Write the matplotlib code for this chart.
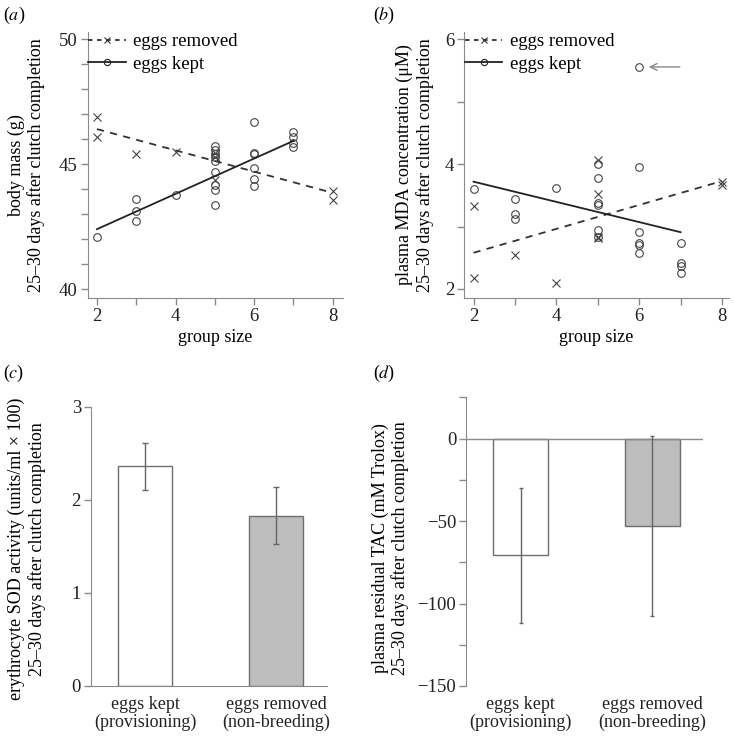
import matplotlib
matplotlib.use('Agg')
import matplotlib.pyplot as plt

plt.rcParams['font.family'] = ['Liberation Serif', 'DejaVu Serif']
plt.rcParams['mathtext.fontset'] = 'stix'

# (a) body mass vs group size
mass_removed_x = [2, 2, 3, 4, 5, 5, 5, 8, 8]
mass_removed_y = [46.9, 46.1, 45.41, 45.49, 45.45, 45.3, 44.35, 43.93, 43.56]
mass_kept_x = [2, 3, 3, 3, 4, 5, 5, 5, 5, 5, 5, 5, 5, 5, 6, 6, 6, 6, 6, 6, 7, 7, 7, 7]
mass_kept_y = [42.09, 43.6, 43.13, 42.72, 43.76, 45.72, 45.56, 45.4, 45.27, 45.13,
               44.68, 44.15, 43.96, 43.35, 46.67, 45.45, 45.4, 44.85, 44.4, 44.13,
               46.29, 46.08, 45.86, 45.69]
mass_fit_removed_x = [2, 8]
mass_fit_removed_y = [46.4, 43.85]
mass_fit_kept_x = [2, 7]
mass_fit_kept_y = [42.4, 45.93]

# (b) plasma MDA vs group size
mda_removed_x = [2, 2, 3, 4, 5, 5, 5, 5, 8, 8]
mda_removed_y = [3.33, 2.175, 2.55, 2.095, 4.07, 3.52, 2.84, 2.81, 3.71, 3.67]
mda_kept_x = [2, 3, 3, 3, 4, 5, 5, 5, 5, 5, 5, 6, 6, 6, 6, 6, 6, 7, 7, 7, 7]
mda_kept_y = [3.61, 3.45, 3.2, 3.12, 3.62, 4.0, 3.78, 3.385, 3.35, 2.94, 2.83,
              5.56, 3.96, 2.91, 2.73, 2.71, 2.58, 2.74, 2.41, 2.37, 2.25]
mda_fit_kept_x = [2, 7]
mda_fit_kept_y = [3.72, 2.91]
mda_fit_removed_x = [2, 8]
mda_fit_removed_y = [2.58, 3.73]
outlier = (6.23, 5.56)
arrow_tail_x = 6.98

# (c), (d) bar charts
groups = ['eggs kept\n(provisioning)', 'eggs removed\n(non-breeding)']
sod_mean = [2.36, 1.83]
sod_low = [2.11, 1.52]
sod_high = [2.61, 2.135]
tac_mean = [-70.6, -52.8]
tac_low = [-111.8, -107.4]
tac_high = [-29.7, 1.5]

axis_col = '#8a8a8a'
fs = 13
W, H = 734, 736

fig = plt.figure(figsize=(7.34, 7.36), dpi=100)


def px_axes(l, t, r, b):
    return fig.add_axes([l / W, 1 - b / H, (r - l) / W, (b - t) / H])


def style(ax, bottom=True):
    for s in ['top', 'right']:
        ax.spines[s].set_visible(False)
    ax.spines['left'].set_color(axis_col)
    ax.spines['bottom'].set_color(axis_col)
    ax.spines['bottom'].set_visible(bottom)
    ax.tick_params(direction='out', length=5, width=1, color=axis_col,
                   labelsize=fs + 0.5, labelcolor='#222222', pad=2)


def scatter_panel(ax, rx, ry, kx, ky, frx, fry, fkx, fky):
    ax.plot(rx, ry, 'x', ms=5.5, mew=0.8, color='#444444')
    ax.plot(kx, ky, 'o', ms=5.5, mfc='none', mew=0.8, color='#444444')
    ax.plot(frx, fry, '--', color='#333333', lw=1.3, dashes=(4, 3.5))
    ax.plot(fkx, fky, '-', color='#222222', lw=1.3)
    h1, = ax.plot([], [], '--', marker='x', ms=4, mew=0.8, color='#333333',
                  lw=1.3, dashes=(2.5, 2.5))
    h2, = ax.plot([], [], '-', marker='o', ms=4.5, mfc='none', mew=0.8,
                  color='#222222', lw=1.3)
    ax.legend([h1, h2], ['eggs removed', 'eggs kept'], loc='upper left',
              bbox_to_anchor=(0.0, 1.0), frameon=False, fontsize=fs + 0.5,
              handlelength=2.0, handletextpad=0.4, borderpad=0.0,
              borderaxespad=0.05, labelspacing=0.3, numpoints=1)
    ax.set_xticks(range(2, 9))
    ax.set_xticklabels(['2', '', '4', '', '6', '', '8'])
    ax.set_xlabel('group size', fontsize=fs, labelpad=3)


# (a)
ax = px_axes(87.5, 32, 343, 298)
style(ax)
scatter_panel(ax, mass_removed_x, mass_removed_y, mass_kept_x, mass_kept_y,
              mass_fit_removed_x, mass_fit_removed_y, mass_fit_kept_x, mass_fit_kept_y)
ax.set_xlim(1.76, 8.26)
ax.set_ylim(39.65, 50.28)
ax.set_yticks(range(40, 51))
ax.set_yticklabels(['40', '', '', '', '', '45', '', '', '', '', '50'])
ax.set_ylabel('body mass (g)\n25\u201330 days after clutch completion',
              fontsize=fs, linespacing=1.2)
ax.yaxis.set_label_coords(-0.165, 0.5)

# (b)
ax = px_axes(464, 32, 728.7, 298)
style(ax)
scatter_panel(ax, mda_removed_x, mda_removed_y, mda_kept_x, mda_kept_y,
              mda_fit_removed_x, mda_fit_removed_y, mda_fit_kept_x, mda_fit_kept_y)
ax.set_xlim(1.77, 8.16)
ax.set_ylim(1.855, 6.12)
ax.set_yticks(range(2, 7))
ax.set_yticklabels(['2', '', '4', '', '6'])
ax.set_ylabel('plasma MDA concentration (\u03bcM)\n25\u201330 days after clutch completion',
              fontsize=fs, linespacing=1.2)
ax.yaxis.set_label_coords(-0.115, 0.5)
ax.annotate('', xy=(outlier[0], outlier[1]), xytext=(arrow_tail_x, outlier[1]),
            arrowprops=dict(arrowstyle='->', color='#888888', lw=1.0,
                            shrinkA=0, shrinkB=0, mutation_scale=12))

pos = [0, 1]
bar_w = 0.417
bar_cols = ['white', '#bdbdbd']

# (c)
ax = px_axes(90.7, 406.7, 326.7, 686)
style(ax)
ax.bar(pos, sod_mean, width=bar_w, color=bar_cols, edgecolor='#6e6e6e', lw=1.0)
ax.errorbar(pos, sod_mean,
            yerr=[[m - lo for m, lo in zip(sod_mean, sod_low)],
                  [hi - m for m, hi in zip(sod_mean, sod_high)]],
            fmt='none', ecolor='#666666', elinewidth=1.0, capsize=2.5)
ax.set_xlim(-0.415, 1.387)
ax.set_ylim(0, 3)
ax.set_yticks([0, 1, 2, 3])
ax.set_xticks(pos)
ax.set_xticklabels(groups, fontsize=fs, linespacing=1.1)
ax.tick_params(axis='x', length=0, pad=7)
ax.set_ylabel('erythrocyte SOD activity (units/ml \u00d7 100)\n25\u201330 days after clutch completion',
              fontsize=fs, linespacing=1.2)
ax.yaxis.set_label_coords(-0.19, 0.49)

# (d)
ax = px_axes(466, 397.3, 702.7, 686)
style(ax, bottom=False)
ax.axhline(0, color=axis_col, lw=1.0)
ax.bar(pos, tac_mean, width=bar_w, color=bar_cols, edgecolor='#6e6e6e', lw=1.0)
ax.errorbar(pos, tac_mean,
            yerr=[[m - lo for m, lo in zip(tac_mean, tac_low)],
                  [hi - m for m, hi in zip(tac_mean, tac_high)]],
            fmt='none', ecolor='#666666', elinewidth=1.0, capsize=1.5)
ax.set_xlim(-0.417, 1.384)
ax.set_ylim(-150, 25)
ax.set_yticks(range(-150, 26, 25))
ax.set_yticklabels(['\u2212150', '', '\u2212100', '', '\u221250', '', '0', ''])
ax.set_xticks(pos)
ax.set_xticklabels(groups, fontsize=fs, linespacing=1.1)
ax.tick_params(axis='x', length=0, pad=7)
ax.set_ylabel('plasma residual TAC (mM Trolox)\n25\u201330 days after clutch completion',
              fontsize=fs, linespacing=1.2)
ax.yaxis.set_label_coords(-0.24, 0.478)

# panel letters
for lbl, x, y in [('a', 3, 15), ('b', 373, 15), ('c', 3, 373), ('d', 373, 373)]:
    fig.text(x / W, 1 - y / H, '(' + r'$\it{' + lbl + '}$' + ')', fontsize=fs,
             ha='left', va='center')

fig.savefig('out.png', dpi=100)
